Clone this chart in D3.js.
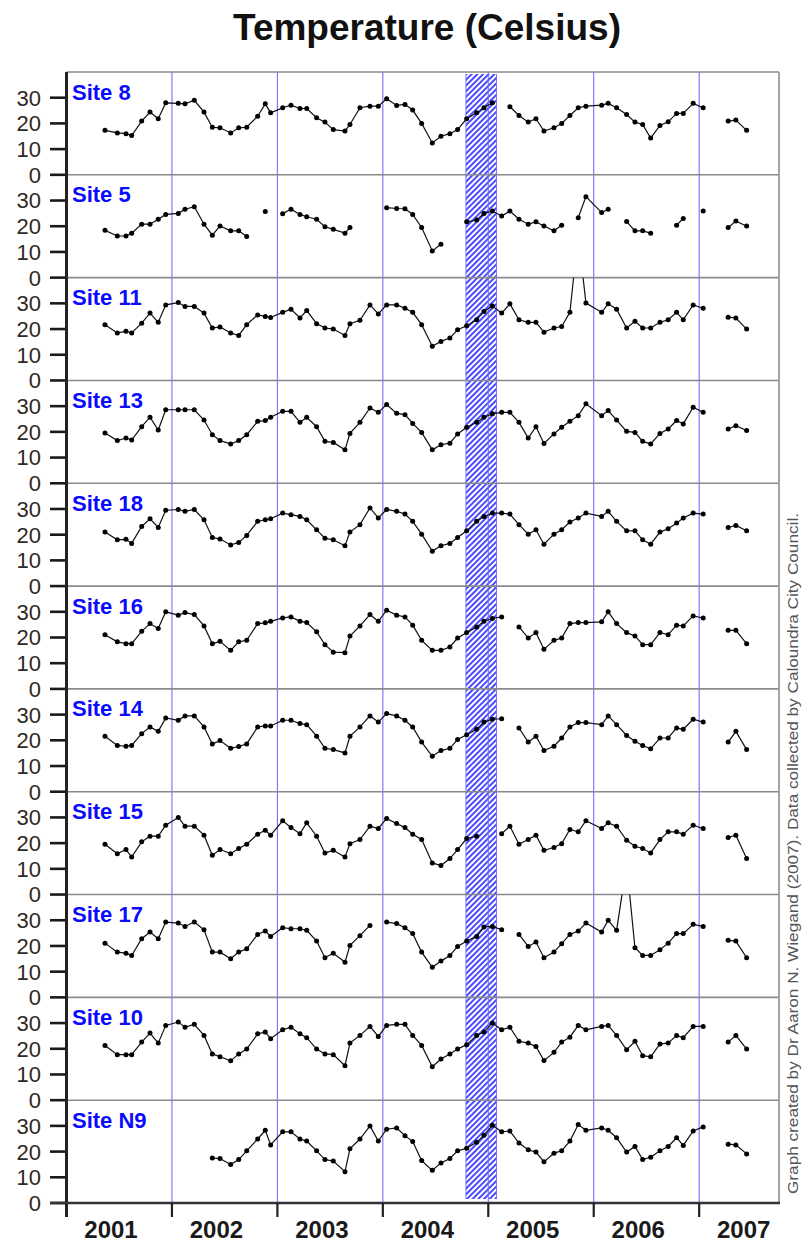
<!DOCTYPE html>
<html>
<head>
<meta charset="utf-8">
<script src="https://cdn.jsdelivr.net/npm/d3@7"></script>
<style>
  body { margin: 0; background: #fff; }
  svg { display: block; }
</style>
</head>
<body>
<svg id="chart" width="803" height="1244"></svg>
<script>
// Sampling dates (decimal years), shared by all monitoring sites
const sampleDates = [
  2001.365, 2001.482, 2001.564, 2001.618, 2001.713, 2001.792, 2001.870, 2001.941,
  2002.060, 2002.124, 2002.212, 2002.304, 2002.383, 2002.456, 2002.557, 2002.633, 2002.709, 2002.813, 2002.885, 2002.936,
  2003.050, 2003.129, 2003.214, 2003.278, 2003.372, 2003.451, 2003.530, 2003.641, 2003.688, 2003.783, 2003.878, 2003.957,
  2004.036, 2004.131, 2004.210, 2004.283, 2004.368, 2004.469, 2004.551, 2004.636, 2004.709, 2004.795, 2004.890, 2004.959,
  2005.039, 2005.127, 2005.205, 2005.291, 2005.379, 2005.452, 2005.528, 2005.623, 2005.696, 2005.774, 2005.853, 2005.926,
  2006.075, 2006.137, 2006.217, 2006.312, 2006.391, 2006.464, 2006.540, 2006.628, 2006.706, 2006.786, 2006.849, 2006.943,
  2007.038, 2007.275, 2007.348, 2007.450
];

// Water temperature (°C) per site; null = not sampled
const site8 = [
  17.3,16.3,16,15.3,20.9,24.4,21.8,28,
  27.8,27.6,29,24.4,18.5,18.3,16.3,18.3,18.5,22.8,27.6,24.1,
  26.1,27.1,25.8,25.8,22.2,20.5,17.6,17,19.6,26.1,26.7,26.7,
  29.6,27,27.4,25.2,20,12.4,15,16,17.6,21.8,24.1,26.1,
  28,null,26.5,23.1,20.5,21.8,17,18.3,20,23.1,26.1,26.7,
  27.1,27.8,26.1,23.5,20.5,19.6,14.3,19.2,20.6,23.9,23.9,27.8,
  26.1,20.9,21.3,17.3
];
const site5 = [
  18.4,16.2,16.2,17.3,20.8,20.8,22.7,24.6,
  25,26.6,27.6,20.8,16.5,20.1,18.2,18.2,16,null,25.7,null,
  24.9,26.6,24.6,23.7,22.7,19.8,18.8,17.3,19.5,null,null,null,
  27.2,26.9,26.8,24.6,19.5,10.4,13,null,null,21.7,22.4,25,
  25.9,24,25.9,22.7,20.8,21.7,20.1,18.2,20.4,null,23.3,31.5,
  25.3,26.6,null,21.8,18.2,18.2,17.3,null,null,20.4,23,null,
  25.9,19.5,22,20.1
];
const site11 = [
  21.7,18.5,19.1,18.5,22.3,26.2,22.6,29.4,
  30.3,28.8,28.8,26.2,20.4,20.8,18.5,17.5,21.7,25.5,24.9,24.5,
  26.5,27.7,24.3,27.2,22.1,20.4,20,17.5,22.1,23.4,29.4,25.9,
  29.4,29.4,28.1,26.5,21.7,13.3,15.2,16.5,19.7,21.3,23.6,26.8,
  29,26.2,29.8,23.6,22.6,22.6,18.8,20.4,21,26.5,57,30.1,
  26.5,29.8,27.7,20.4,23,20.4,20.4,22.6,23.6,26.5,23.6,29.4,
  28.1,24.6,24.3,20
];
const site13 = [
  19.6,16.6,17.6,16.8,22,25.7,20.7,28.6,
  28.6,28.6,28.6,24.6,18.9,16.6,15.3,16.6,18.9,24.1,24.4,25.7,
  28,28,23.7,25.7,22,16.3,15.9,13,19.4,23.7,29.3,27.6,
  30.6,27.2,26.7,23.3,19.8,13,15,15.6,19.2,21.8,23.7,25.7,
  27,27.6,27.6,23.7,17.6,22,15.5,19.2,21.8,24.1,26.3,30.9,
  26.3,28.3,24.6,20.2,19.8,16.3,15.3,19.4,21.1,24.4,23.1,29.6,
  27.6,21.1,22.4,20.5
];
const site18 = [
  21,18,18.2,16.6,23.2,26.2,22.8,29.5,
  29.8,29.1,29.8,25.8,18.9,18.3,16,17,19.7,25.2,25.8,26.2,
  28.4,27.8,27.1,25.8,21.9,18.6,18,15.7,21,23.9,30.4,26.5,
  29.8,29.1,28,25.2,20.2,13.6,15.7,16.6,18.9,21.5,25.2,27.1,
  28.4,28.4,28,23.9,20.2,21.9,16.3,20.2,21.9,24.9,26.5,28.4,
  27.1,29.1,25.2,21.5,21.5,18,16.3,21,22.3,24.5,26.5,28.4,
  28,22.8,23.6,21.5
];
const site16 = [
  21.1,18.3,17.6,17.6,22.4,25.4,23.5,30,
  28.7,29.7,28.9,24.5,17.6,18.5,15,18.3,18.9,25.4,25.7,26.3,
  27.6,28,26.3,25.8,22.2,17.2,14.3,14.1,20.6,24.5,28.9,26.3,
  30.6,28.7,28,24.8,18.9,15,15,16.3,19.8,21.9,24.1,26.3,
  27.4,28,null,24.1,19.8,21.9,15.4,18.9,19.8,25.4,25.8,25.8,
  26.1,30,25.4,21.9,20.6,17.2,17.2,21.9,21.1,24.8,24.5,28.4,
  27.6,22.8,22.8,17.6
];
const site14 = [
  21.6,18,17.7,18,22.6,25.2,23.5,28.7,
  27.8,29.5,29.5,25.2,18.6,19.9,16.9,17.6,18.6,25.2,25.6,25.6,
  27.8,27.8,26.5,26.1,21.6,16.9,16.4,15.1,21.6,25.2,29.5,27.1,
  30.4,29.5,27.8,25.2,19.3,13.8,16,16.9,20.3,22.2,24.3,27.1,
  28.2,28.4,null,24.8,19.3,21.6,16,17.7,20.9,25.2,26.9,26.9,
  26.1,29.5,26.1,21.9,19.6,18,16.7,20.9,20.9,24.8,24.3,28.2,
  27.1,19.3,23.5,16.4
];
const site15 = [
  19.6,15.9,17.5,14.6,20.5,22.7,22.7,27,
  30,26.6,26.6,23.1,15.3,17.5,15.9,17.9,19.6,23.5,25,23.1,
  28.7,26.1,23.7,27.9,22.7,16.2,17.2,14.6,19.8,21.4,26.6,25.7,
  29.6,27.6,26.1,23.5,21.4,12.3,11.3,14,17.5,21.8,22.7,null,
  null,23.7,26.6,19.6,21.4,23.1,17.2,18.3,19.8,25.3,24.4,28.7,
  25.7,27.9,26.6,21.1,18.8,17.9,16.2,21.4,24.4,24.4,23.5,27,
  25.7,22.2,23.1,14
];
const site17 = [
  21.1,17.6,17.2,16.3,22.8,25.4,22.8,29.3,
  28.9,27.6,29.3,26.3,17.6,17.6,15,17.6,18.9,24.5,25.8,23.7,
  27.1,26.7,26.7,26.1,21.9,15.4,17.2,13.7,20.2,24,28,null,
  29.3,28.7,27.1,24.8,17.6,11.7,14.1,16.3,19.8,21.9,23.7,27.4,
  27.6,26.3,null,24.5,19.8,21.5,15.4,17.6,20.9,24.5,25.8,28.9,
  25.4,30,26.1,52,19.3,16.3,16.3,18.5,21.1,24.8,24.8,28.4,
  27.6,22.2,21.9,15.4
];
const site10 = [
  21.3,17.7,17.7,17.7,22.6,26.1,22.2,29.1,
  30.4,28.4,29.5,25.2,18,16.9,15.3,18,19.9,25.8,26.5,23.9,
  27.4,28.4,25.8,24.3,19.9,18,17.7,13.4,22.2,25.2,28.7,24.8,
  29.1,29.5,29.5,25.2,21.3,13,16,18,19.9,21.6,25.2,26.5,
  30,27.4,28.4,22.9,22.2,20.9,15.4,18.6,22.6,24.5,29.1,27.4,
  28.7,29.1,25.2,19.6,22.9,17.3,16.9,21.9,22.2,25.2,24.3,28.7,
  28.7,22.6,25.2,19.9
];
const siteN9 = [
  null,null,null,null,null,null,null,null,
  null,null,null,null,17.5,17.3,15,16.9,20.3,24.9,28.3,22.6,
  27.7,27.7,24.9,24.1,20.3,16.9,16.3,12.2,21.1,24.9,30,24.1,
  28.7,29.2,26.2,23.9,16.5,12.7,15.6,17.3,20.3,21.3,23.6,26.4,
  30.2,27.7,28,23.3,20.7,19.8,16,19.4,20.3,24.1,30.5,28.3,
  29.2,28.3,25.4,19.8,22,16.9,17.8,20.3,22,25.4,22.4,28,
  29.6,22.9,22.6,19.1
];

const siteNames = ["Site 8", "Site 5", "Site 11", "Site 13", "Site 18", "Site 16",
                   "Site 14", "Site 15", "Site 17", "Site 10", "Site N9"];
const siteValues = [site8, site5, site11, site13, site18, site16,
                    site14, site15, site17, site10, siteN9];

const yearTicks = [2001, 2002, 2003, 2004, 2005, 2006, 2007];
const yearLabels = ["2001", "2002", "2003", "2004", "2005", "2006", "2007"];
const tempTicks = [0, 10, 20, 30];
const shadedPeriod = [2004.788, 2005.078];

const titleText = "Temperature (Celsius)";
const creditText = "Graph created by Dr Aaron N. Wiegand (2007). Data collected by Caloundra City Council.";

(function draw() {
  // ---- layout ----
  const plotLeft = 66.5, plotRight = 779, plotTop = 72, plotBottom = 1203;
  const panelH = (plotBottom - plotTop) / siteNames.length;
  const font = "'Liberation Sans', Arial, Helvetica, sans-serif";

  const x = d3.scaleLinear().domain([2001, 2007.757]).range([plotLeft, plotRight]);
  const y = d3.scaleLinear().domain([0, 40]).range([panelH, 0]);

  const svg = d3.select("#chart");
  const defs = svg.append("defs");

  // diagonal hatch for the highlighted period
  defs.append("pattern")
    .attr("id", "hatch")
    .attr("patternUnits", "userSpaceOnUse")
    .attr("width", 4).attr("height", 4)
    .attr("patternTransform", "rotate(45)")
    .append("line")
    .attr("x1", 2).attr("y1", 0).attr("x2", 2).attr("y2", 4)
    .attr("stroke", "#2a2aff").attr("stroke-width", 1.7);

  siteNames.forEach((n, i) => {
    defs.append("clipPath").attr("id", "clip" + i)
      .append("rect")
      .attr("x", plotLeft).attr("y", 0)
      .attr("width", plotRight - plotLeft).attr("height", panelH);
  });

  // title
  svg.append("text")
    .attr("x", 427).attr("y", 40)
    .attr("text-anchor", "middle")
    .attr("font-family", font).attr("font-weight", "bold")
    .attr("font-size", 37).attr("fill", "#111")
    .text(titleText);

  // hatched period
  const [h0, h1] = shadedPeriod;
  svg.append("rect")
    .attr("x", x(h0)).attr("y", plotTop + 2)
    .attr("width", x(h1) - x(h0)).attr("height", plotBottom - plotTop - 6)
    .attr("fill", "url(#hatch)");
  [h0, h1].forEach(v => {
    svg.append("line")
      .attr("x1", x(v)).attr("x2", x(v))
      .attr("y1", plotTop + 2).attr("y2", plotBottom - 4)
      .attr("stroke", "#5a5aff").attr("stroke-width", 0.8);
  });

  // year boundary lines
  svg.append("g").selectAll("line")
    .data(yearTicks.slice(1))
    .join("line")
    .attr("x1", d => x(d)).attr("x2", d => x(d))
    .attr("y1", plotTop).attr("y2", plotBottom)
    .attr("stroke", "#6f6fff").attr("stroke-width", 1.1);

  // panel separators and frame
  const frame = svg.append("g");
  d3.range(siteNames.length).forEach(i => {
    frame.append("line")
      .attr("x1", plotLeft).attr("x2", plotRight)
      .attr("y1", plotTop + i * panelH).attr("y2", plotTop + i * panelH)
      .attr("stroke", "#8a8a8a").attr("stroke-width", 1.6);
  });
  frame.append("line")
    .attr("x1", plotRight).attr("x2", plotRight)
    .attr("y1", plotTop).attr("y2", plotBottom)
    .attr("stroke", "#9a9a9a").attr("stroke-width", 1.8);

  // panels
  const line = d3.line().x(d => x(d.t)).y(d => y(d.v));

  siteNames.forEach((name, i) => {
    const g = svg.append("g").attr("transform", `translate(0,${plotTop + i * panelH})`);
    const vals = siteValues[i];

    // consecutive sampled runs; a missed sample or a long break splits the line
    const runs = [];
    let cur = [];
    sampleDates.forEach((t, k) => {
      const v = vals[k];
      if (v == null) { if (cur.length) runs.push(cur); cur = []; return; }
      if (cur.length && t - cur[cur.length - 1].t > 0.2) { runs.push(cur); cur = []; }
      cur.push({ t, v });
    });
    if (cur.length) runs.push(cur);

    const plot = g.append("g").attr("clip-path", `url(#clip${i})`);
    plot.selectAll("path.run")
      .data(runs.filter(r => r.length > 1))
      .join("path")
      .attr("class", "run")
      .attr("d", line)
      .attr("fill", "none")
      .attr("stroke", "#111").attr("stroke-width", 1.2);
    plot.selectAll("circle")
      .data(runs.flat())
      .join("circle")
      .attr("cx", d => x(d.t)).attr("cy", d => y(d.v))
      .attr("r", 2.5).attr("fill", "#000");

    // y axis ticks
    const ax = g.append("g");
    ax.selectAll("line")
      .data(tempTicks)
      .join("line")
      .attr("x1", 50).attr("x2", plotLeft)
      .attr("y1", d => y(d)).attr("y2", d => y(d))
      .attr("stroke", "#1a1a1a").attr("stroke-width", 2.6);
    ax.selectAll("text")
      .data(tempTicks)
      .join("text")
      .attr("x", 41).attr("y", d => y(d))
      .attr("dy", "0.36em")
      .attr("text-anchor", "end")
      .attr("font-family", font).attr("font-size", 22)
      .attr("fill", "#2e2a26")
      .text(d => d);

    // site label
    g.append("text")
      .attr("x", 72).attr("y", 27.5)
      .attr("font-family", font).attr("font-weight", "bold")
      .attr("font-size", 22).attr("fill", "#0a0aff")
      .text(name);
  });

  // left axis
  svg.append("line")
    .attr("x1", plotLeft).attr("x2", plotLeft)
    .attr("y1", plotTop).attr("y2", plotBottom + 14)
    .attr("stroke", "#222").attr("stroke-width", 3);

  // bottom axis
  svg.append("line")
    .attr("x1", 50).attr("x2", plotRight + 1)
    .attr("y1", plotBottom).attr("y2", plotBottom)
    .attr("stroke", "#333").attr("stroke-width", 2.6);
  svg.append("g").selectAll("line")
    .data(yearTicks.slice(1))
    .join("line")
    .attr("x1", d => x(d)).attr("x2", d => x(d))
    .attr("y1", plotBottom).attr("y2", plotBottom + 14)
    .attr("stroke", "#222").attr("stroke-width", 2.2);
  svg.append("g").selectAll("text")
    .data(yearTicks)
    .join("text")
    .attr("x", d => x(d) + 44.5)
    .attr("y", 1238)
    .attr("text-anchor", "middle")
    .attr("font-family", font).attr("font-weight", "bold")
    .attr("font-size", 24).attr("fill", "#1a1a1a")
    .text((d, i) => yearLabels[i]);

  // credit line along the right edge
  svg.append("text")
    .attr("transform", "translate(798,1194) rotate(-90)")
    .attr("font-family", font).attr("font-size", 14)
    .attr("fill", "#555")
    .attr("textLength", 681).attr("lengthAdjust", "spacingAndGlyphs")
    .text(creditText);
})();
</script>
</body>
</html>
